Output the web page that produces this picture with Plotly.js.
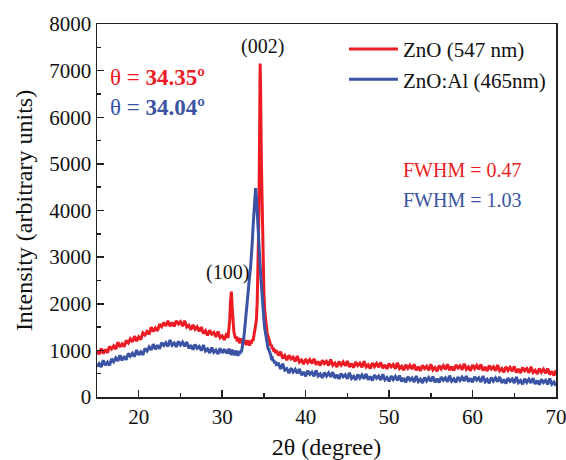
<!DOCTYPE html>
<html>
<head>
<meta charset="utf-8">
<script src="https://cdn.plot.ly/plotly-3.0.1.min.js"></script>
<style>html,body{margin:0;padding:0;background:#fff;}#chart{width:566px;height:460px;}</style>
</head>
<body>
<div id="chart"></div>
<script>
// 2-theta grid (degree)
const twoThetaA = [15,15.25,15.5,15.75,16,16.25,16.5,16.75,17,17.25,17.5,17.75,18,18.25,18.5,18.75,19,19.25,19.5,19.75,20,20.25,20.5,20.75,21,21.25,21.5,21.75,22,22.25,22.5,22.75,23,23.25,23.5,23.75,24,24.25,24.5,24.75,25,25.25,25.5,25.75,26,26.25,26.5,26.75,27,27.25,27.5,27.75,28,28.25,28.5,28.75,29,29.25,29.5,29.75,30,30.25,30.5];
const twoThetaB = [30.6,30.7,30.8,30.9,31,31.1,31.2,31.3,31.4,31.5,31.6,31.7,31.8,31.9,32,32.1,32.2,32.3,32.4,32.5,32.6,32.7,32.8,32.9,33,33.1,33.2,33.3,33.4,33.5,33.6,33.7,33.8,33.9,34,34.1,34.2,34.3,34.4,34.5,34.55,34.6,34.7,34.8,34.9,35,35.1,35.2,35.3,35.4,35.5,35.6,35.7,35.8,35.9,36,36.1,36.2,36.3,36.4];
const twoThetaC = [36.5,36.75,37,37.25,37.5,37.75,38,38.25,38.5,38.75,39,39.25,39.5,39.75,40,40.25,40.5,40.75,41,41.25,41.5,41.75,42,42.25,42.5,42.75,43,43.25,43.5,43.75,44,44.25,44.5,44.75,45,45.25,45.5,45.75,46,46.25,46.5,46.75,47,47.25,47.5,47.75,48,48.25,48.5,48.75,49,49.25,49.5,49.75,50,50.25,50.5,50.75,51,51.25,51.5,51.75,52,52.25,52.5,52.75,53,53.25,53.5,53.75,54,54.25,54.5,54.75,55,55.25,55.5,55.75,56,56.25,56.5,56.75,57,57.25,57.5,57.75,58,58.25,58.5,58.75,59,59.25,59.5,59.75,60,60.25,60.5,60.75,61,61.25,61.5,61.75,62,62.25,62.5,62.75,63,63.25,63.5,63.75,64,64.25,64.5,64.75,65,65.25,65.5,65.75,66,66.25,66.5,66.75,67,67.25,67.5,67.75,68,68.25,68.5,68.75,69,69.25,69.5,69.75,70];

// ZnO (547 nm) intensity
const znoA = [985,920,1040,930,1020,950,1085,1030,1095,1028,1175,1072,1140,1078,1215,1157,1245,1183,1305,1197,1290,1230,1375,1330,1405,1345,1500,1405,1480,1420,1560,1505,1595,1523,1635,1518,1600,1515,1635,1565,1615,1518,1635,1503,1540,1442,1545,1453,1505,1410,1500,1360,1420,1323,1430,1348,1385,1288,1405,1273,1310,1225,1340];
const znoB = [1330,1270,1440,1640,2050,2260,1920,1560,1400,1320,1250,1300,1190,1270,1230,1150,1260,1180,1210,1130,1240,1160,1190,1110,1220,1150,1170,1100,1210,1150,1240,1200,1310,1340,1450,1650,2050,2700,3900,6100,7150,6700,5000,3700,2800,2250,1850,1620,1480,1350,1300,1200,1190,1100,1120,1030,1060,970,1020,940];
const znoC = [995,890,970,830,890,790,895,815,855,760,880,751,793,704,815,736,803,719,820,691,763,674,790,717,764,676,803,680,728,645,762,684,751,668,770,643,717,630,748,676,725,638,766,644,693,611,729,652,721,639,742,615,689,602,720,647,694,606,733,610,658,575,692,614,681,598,700,574,648,561,680,609,658,571,700,581,633,554,675,601,673,594,700,576,652,567,688,619,669,584,714,595,645,565,685,608,676,594,698,571,644,557,675,602,649,561,688,565,612,530,647,569,636,553,655,528,601,514,632,560,608,521,648,526,574,492,610,530,595,510,610,480,550,460,575];

// ZnO:Al (465 nm) intensity
const znoAlA = [650,715,645,788,680,745,680,815,755,840,775,895,785,872,800,932,875,937,865,1007,900,968,905,1043,985,1073,1010,1133,1025,1110,1035,1165,1105,1163,1085,1223,1110,1158,1075,1193,1115,1175,1085,1180,1045,1110,1015,1125,1045,1086,993,1114,985,1029,943,1061,960,1006,923,1043,945,1025,940];
const znoAlB = [1010,925,1040,940,975,900,1020,930,960,890,1000,915,945,880,990,920,990,960,1060,1120,1280,1460,1680,1900,2120,2300,2480,2620,2780,3000,3300,3650,4000,4350,4480,4300,3900,3450,3150,2950,2800,2650,2330,2070,1850,1660,1470,1340,1210,1140,1040,1010,920,910,830,840,770,790,720,760];
const znoAlC = [695,715,600,712,575,607,510,620,535,595,505,602,470,537,445,561,488,534,445,571,448,494,410,527,448,515,432,533,405,477,388,505,432,478,390,518,397,445,363,481,405,473,391,494,368,441,354,472,401,449,362,490,369,417,335,452,374,441,358,460,332,404,316,433,360,408,322,451,331,380,300,420,345,415,335,441,317,393,309,430,361,412,328,458,339,389,310,430,355,425,345,450,325,400,315,433,362,410,323,451,330,378,297,416,340,409,328,430,303,376,290,408,337,386,300,428,306,354,273,391,314,382,300,404,278,351,265,382,310,357,270,397,275,322,240];

const twoTheta = twoThetaA.concat(twoThetaB, twoThetaC);
const znoY = znoA.concat(znoB, znoC);
const znoAlY = znoAlA.concat(znoAlB, znoAlC);

const seriesNames = ['ZnO (547 nm)', 'ZnO:Al (465nm)'];
const RED = '#ED1C24', BLUE = '#3A53A4';
const SERIF = 'Liberation Serif, Times New Roman, serif';

const traces = [
  {x: twoTheta, y: znoY, type: 'scatter', mode: 'lines', name: seriesNames[0],
   line: {color: RED, width: 3}},
  {x: twoTheta, y: znoAlY, type: 'scatter', mode: 'lines', name: seriesNames[1],
   line: {color: BLUE, width: 3}}
];

const axisCommon = {
  showgrid: false, zeroline: false, showline: true, mirror: true,
  linecolor: '#222', linewidth: 1.5, ticks: 'inside', ticklen: 7, tickwidth: 1.5,
  tickcolor: '#222', tickfont: {family: SERIF, size: 21, color: '#111'},
  ticklabeloverflow: 'allow'
};

const layout = {
  width: 566, height: 460,
  margin: {l: 97, r: 10, t: 24, b: 63},
  paper_bgcolor: '#fff', plot_bgcolor: '#fff',
  font: {family: SERIF, color: '#111'},
  showlegend: true,
  legend: {x: 0.538, y: 0.987, xanchor: 'left', yanchor: 'top', bgcolor: 'rgba(0,0,0,0)',
           itemwidth: 49,
           font: {family: SERIF, size: 21, color: '#111'}, tracegroupgap: 0},
  xaxis: Object.assign({}, axisCommon, {
    range: [15, 70], tick0: 0, dtick: 10,
    minor: {dtick: 5, ticks: 'inside', ticklen: 4, tickwidth: 1.5, tickcolor: '#222'},
    title: {text: '2θ (degree)', font: {family: SERIF, size: 24, color: '#111'}, standoff: 14}
  }),
  yaxis: Object.assign({}, axisCommon, {
    range: [0, 8000], tick0: 0, dtick: 1000,
    minor: {dtick: 500, ticks: 'inside', ticklen: 4, tickwidth: 1.5, tickcolor: '#222'},
    title: {text: 'Intensity (arbitrary units)', font: {family: SERIF, size: 24, color: '#111'}, standoff: 10}
  }),
  annotations: [
    {xref: 'x', yref: 'y', x: 34.8, y: 7510, text: '(002)', showarrow: false,
     font: {family: SERIF, size: 20, color: '#111'}},
    {xref: 'x', yref: 'y', x: 30.6, y: 2680, text: '(100)', showarrow: false,
     font: {family: SERIF, size: 20, color: '#111'}},
    {xref: 'paper', yref: 'paper', x: 0.025, y: 0.895, xanchor: 'left', text: 'θ = <b>34.35º</b>', showarrow: false,
     font: {family: SERIF, size: 23, color: RED}},
    {xref: 'paper', yref: 'paper', x: 0.025, y: 0.815, xanchor: 'left', text: 'θ = <b>34.04º</b>', showarrow: false,
     font: {family: SERIF, size: 23, color: BLUE}},
    {xref: 'paper', yref: 'paper', x: 0.662, y: 0.609, xanchor: 'left', text: 'FWHM = 0.47', showarrow: false,
     font: {family: SERIF, size: 20, color: RED}},
    {xref: 'paper', yref: 'paper', x: 0.662, y: 0.528, xanchor: 'left', text: 'FWHM = 1.03', showarrow: false,
     font: {family: SERIF, size: 20, color: BLUE}}
  ]
};

Plotly.newPlot('chart', traces, layout, {displayModeBar: false, staticPlot: true});
</script>
</body>
</html>
